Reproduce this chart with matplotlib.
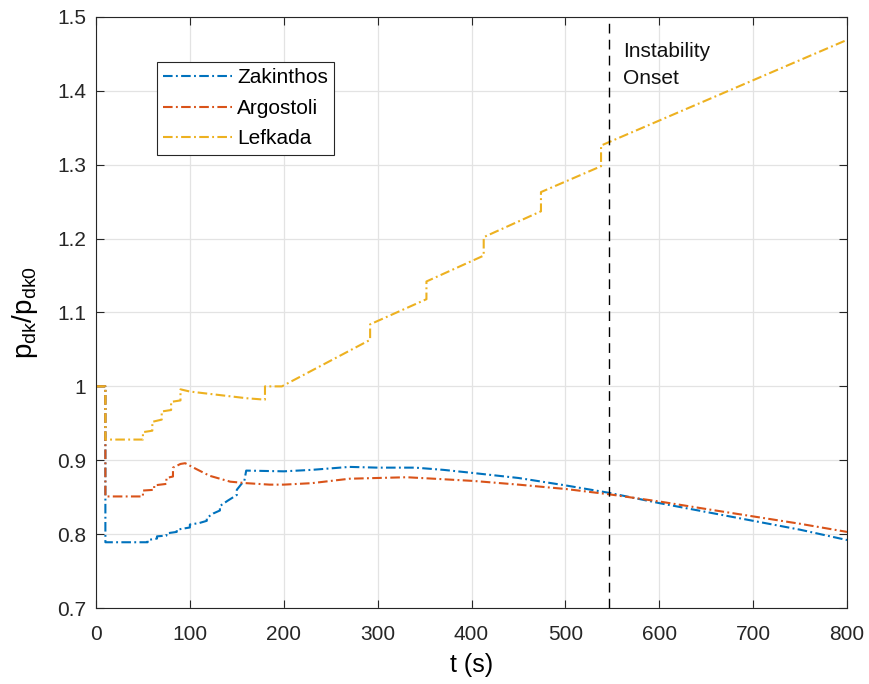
import matplotlib
matplotlib.use("Agg")
import matplotlib.pyplot as plt

plt.rcParams['font.family'] = ['Liberation Sans', 'DejaVu Sans']
plt.rcParams['mathtext.default'] = 'regular'

# ---------------- data ----------------
t_lef = [0, 10, 10, 50, 50, 60, 60, 70, 70, 80, 80, 90, 90, 100, 120, 140, 160, 180, 180, 198,
         292, 292, 352, 352, 413, 413, 474, 474, 538, 538, 800]
v_lef = [1.0, 1.0, 0.928, 0.928, 0.938, 0.940, 0.952, 0.955, 0.966, 0.968, 0.979, 0.981, 0.996,
         0.993, 0.990, 0.987, 0.984, 0.982, 1.0, 1.0,
         1.063, 1.084, 1.118, 1.142, 1.177, 1.202, 1.237, 1.263, 1.298, 1.326, 1.469]

t_zak = [0, 10, 10, 47, 55, 55, 65, 65, 75, 75, 86, 86, 100, 100, 110, 118, 118, 125, 132, 132,
         140, 150, 150, 155, 158, 160, 200, 230, 270, 300, 330, 340, 370, 400, 450, 500, 546,
         600, 650, 700, 750, 800]
v_zak = [1.0, 1.0, 0.789, 0.789, 0.789, 0.792, 0.794, 0.797, 0.798, 0.801, 0.803, 0.806, 0.809,
         0.813, 0.815, 0.818, 0.822, 0.828, 0.832, 0.838, 0.845, 0.853, 0.860, 0.868, 0.872,
         0.886, 0.885, 0.887, 0.891, 0.890, 0.890, 0.890, 0.887, 0.883, 0.876, 0.866, 0.856,
         0.842, 0.830, 0.818, 0.806, 0.792]

t_arg = [0, 10, 10, 50, 50, 62, 62, 75, 75, 82, 82, 90, 95, 107, 121, 143, 160, 185, 200, 230,
         270, 300, 331, 360, 402, 450, 501, 546, 601, 650, 700, 750, 800]
v_arg = [1.0, 1.0, 0.851, 0.851, 0.859, 0.860, 0.866, 0.868, 0.876, 0.878, 0.890, 0.895, 0.896,
         0.888, 0.879, 0.871, 0.869, 0.867, 0.867, 0.869, 0.875, 0.876, 0.877, 0.875, 0.872,
         0.867, 0.861, 0.854, 0.844, 0.834, 0.824, 0.814, 0.803]

labels = ['Zakinthos', 'Argostoli', 'Lefkada']
colors = ['#0072BD', '#D95319', '#EDB120']
t_onset = 546
x_ticks = [0, 100, 200, 300, 400, 500, 600, 700, 800]
y_ticks = [0.7, 0.8, 0.9, 1.0, 1.1, 1.2, 1.3, 1.4, 1.5]
y_ticklabels = ['0.7', '0.8', '0.9', '1', '1.1', '1.2', '1.3', '1.4', '1.5']

# ---------------- plot ----------------
fig = plt.figure(figsize=(8.69, 6.84), dpi=100)
ax = fig.add_axes([96/869, 76/684, 751/869, 591/684])

dash = [4.6, 1.6, 0.9, 1.6]
for (tt, vv), lab, c in zip([(t_zak, v_zak), (t_arg, v_arg), (t_lef, v_lef)], labels, colors):
    ax.plot(tt, vv, color=c, lw=1.5, dashes=dash, label=lab)

ax.axvline(t_onset, color='black', lw=1.0, dashes=[7, 4.5])
ax.text(t_onset + 15, 1.435, 'Instability\nOnset', fontsize=15, va='center', ha='left',
        linespacing=1.5, color='#111111')

ax.set_xlim(0, 800)
ax.set_ylim(0.7, 1.5)
ax.set_xticks(x_ticks)
ax.set_yticks(y_ticks)
ax.set_yticklabels(y_ticklabels)
ax.tick_params(direction='in', top=True, right=True, labelsize=15, length=6, width=0.8,
               colors='#262626')
ax.tick_params(axis='x', pad=12)
ax.tick_params(axis='y', pad=7)
ax.grid(True, color='#e3e3e3', lw=0.9)
ax.set_axisbelow(True)
for s in ax.spines.values():
    s.set_color('#262626')
    s.set_linewidth(0.8)

ax.set_xlabel('t (s)', fontsize=18, labelpad=7)
ax.set_ylabel('$p_{dk}/p_{dk0}$', fontsize=20, labelpad=12)

leg = ax.legend(loc='upper left', bbox_to_anchor=(0.081, 0.924), fontsize=15,
                frameon=True, fancybox=False, edgecolor='#262626', framealpha=1,
                handlelength=3.3, handletextpad=0.25, borderpad=0.3, labelspacing=0.56,
                borderaxespad=0)
leg.get_frame().set_linewidth(0.8)

fig.savefig('out.png', dpi=100)
